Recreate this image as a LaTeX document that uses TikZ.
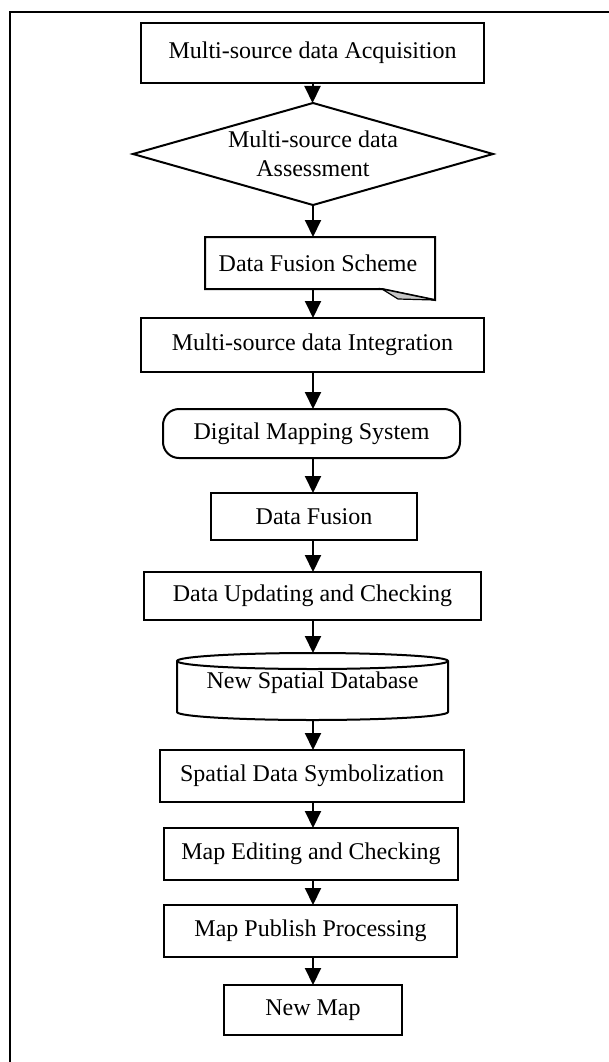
\documentclass[tikz,border=0pt]{standalone}
\usepackage{fontspec}
\setmainfont{Liberation Serif}
\usetikzlibrary{shapes.geometric,arrows.meta}
\begin{document}
\begin{tikzpicture}[x=1pt,y=-1pt,
  font=\fontsize{24}{27}\selectfont,
  every node/.style={inner sep=0pt, outer sep=0pt},
  boxnode/.style={draw, line width=2pt, rectangle, minimum width=#1},
  hidden/.style={rectangle, minimum width=#1},
  arr/.style={line width=2pt, -{Triangle[width=16pt,length=17pt]}},
  outline/.style={line width=2pt}
]
\useasboundingbox (0,0) rectangle (609,1062);
% frame (right and bottom sides lie outside the picture)
\draw[line width=2.5pt] (10,1070) -- (10,12) -- (620,12);

\node[boxnode=343, minimum height=60] (acq) at (312.5,53) {Multi-source data Acquisition};
\node[diamond, draw, line width=2pt, minimum width=360, minimum height=102,
      label={[align=center, font=\fontsize{24}{29}\selectfont]center:Multi-source data\\Assessment}] (ass) at (313,154) {};
\node[hidden=230, minimum height=52] (dfs) at (320,263) {\hspace*{-4pt}Data Fusion Scheme};
\draw[outline] (dfs.north west) -- (dfs.north east) -- ([yshift=-11]dfs.south east)
  -- ([xshift=-53]dfs.south east) -- (dfs.south west) -- cycle;
\draw[line width=1.2pt, fill=gray!45] ([xshift=-53]dfs.south east) -- ([xshift=-37,yshift=-10]dfs.south east)
  -- ([yshift=-11]dfs.south east) -- cycle;
\node[boxnode=343, minimum height=54] (int) at (312.5,345) {Multi-source data Integration};
\node[boxnode=297, minimum height=49, rounded corners=16] (dms) at (311.5,433.5) {Digital Mapping System};
\node[boxnode=206, minimum height=47] (fus) at (314,516.5) {Data Fusion};
\node[boxnode=337, minimum height=48] (upd) at (312.5,596) {Data Updating and Checking};
\node[hidden=271, minimum height=67] (db) at (312.5,686.5) {};
\node at ([yshift=4]db.center) {New Spatial Database};
\draw[outline] (db.west |- 0,661) arc[start angle=180, end angle=360, x radius=135.5, y radius=8]
  -- (db.east |- 0,712) arc[start angle=0, end angle=180, x radius=135.5, y radius=8] -- cycle;
\draw[outline] (db.west |- 0,661) arc[start angle=180, end angle=0, x radius=135.5, y radius=8];
\node[boxnode=304, minimum height=52] (sym) at (312,776) {Spatial Data Symbolization};
\node[boxnode=294, minimum height=52] (edt) at (311,854) {Map Editing and Checking};
\node[boxnode=293, minimum height=52] (pub) at (310.5,931) {Map Publish Processing};
\node[boxnode=178, minimum height=50] (new) at (313,1010) {New Map};

\draw[arr] (acq.south) -- (acq.south |- ass.north);
\draw[arr] (ass.south) -- (ass.south |- dfs.north);
\draw[arr] (ass.south |- dfs.south) -- (ass.south |- int.north);
\draw[arr] (ass.south |- int.south) -- (ass.south |- dms.north);
\draw[arr] (ass.south |- dms.south) -- (ass.south |- fus.north);
\draw[arr] (ass.south |- fus.south) -- (ass.south |- upd.north);
\draw[arr] (ass.south |- upd.south) -- (ass.south |- db.north);
\draw[arr] (ass.south |- db.south) -- (ass.south |- sym.north);
\draw[arr] (ass.south |- sym.south) -- (ass.south |- edt.north);
\draw[arr] (ass.south |- edt.south) -- (ass.south |- pub.north);
\draw[arr] (ass.south |- pub.south) -- (ass.south |- new.north);
\end{tikzpicture}
\end{document}
